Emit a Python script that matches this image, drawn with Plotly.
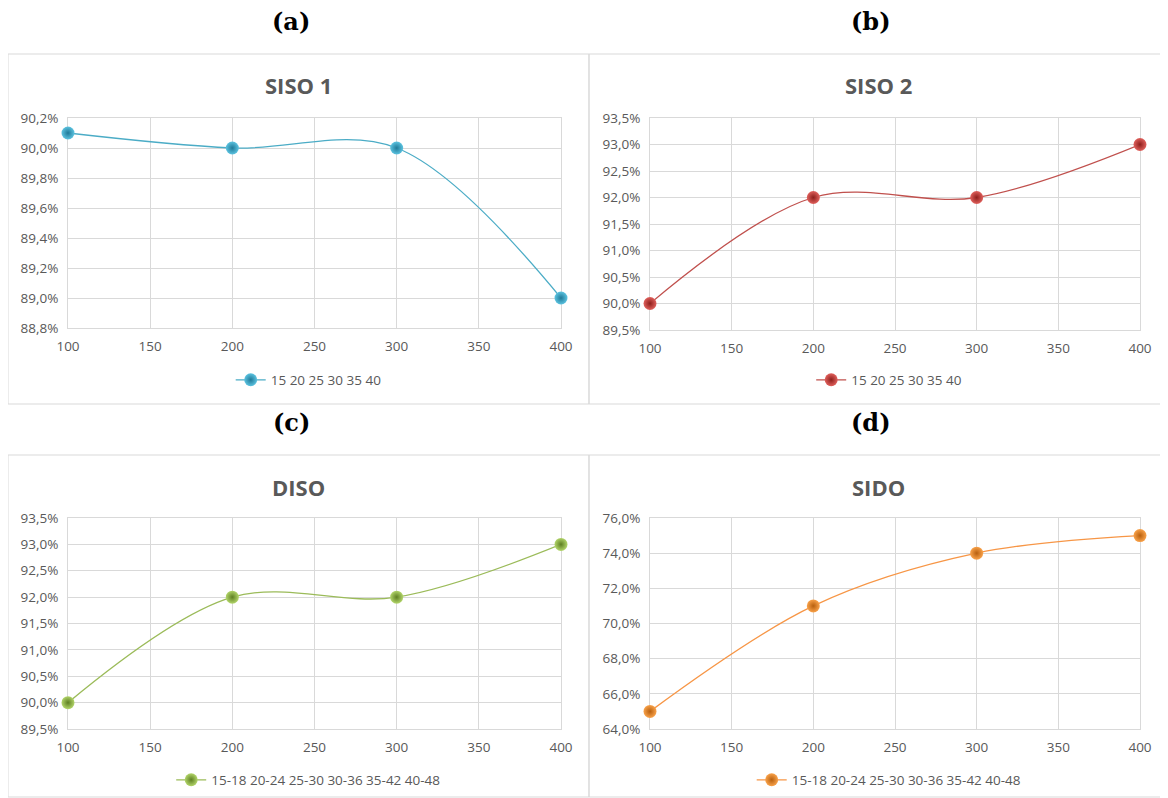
import plotly.graph_objects as go

x_vals = [100, 200, 300, 400]
siso1 = [90.1, 90.0, 90.0, 89.0]
siso2 = [90.0, 92.0, 92.0, 93.0]
diso = [90.0, 92.0, 92.0, 93.0]
sido = [65.0, 71.0, 74.0, 75.0]
titles = ["SISO 1", "SISO 2", "DISO", "SIDO"]
labels = ["(a)", "(b)", "(c)", "(d)"]
legend_names = ["15 20 25 30 35 40", "15 20 25 30 35 40",
                "15-18 20-24 25-30 30-36 35-42 40-48", "15-18 20-24 25-30 30-36 35-42 40-48"]
series = [siso1, siso2, diso, sido]
y_ranges = [(88.8, 90.2, 0.2), (89.5, 93.5, 0.5), (89.5, 93.5, 0.5), (64.0, 76.0, 2.0)]
line_colors = ["#4BACC6", "#C0504D", "#9BBB59", "#F79646"]
marker_colors = ["#5CC3E0", "#E0605C", "#B2D56A", "#F9A24A"]
edge_colors = ["#1F7A99", "#8E1F1C", "#5E7F22", "#B8600F"]

# the page body has an 8px margin: work in page pixels and shift by OFF
OFF = 8
W, H = 1168 - OFF, 798 - OFF
# plot area pixel boxes (page coords): (x0, x1, ytop, ybottom)
boxes = [(68, 561, 118, 328), (650, 1140, 118, 330), (68, 561, 518, 729), (650, 1140, 518, 729)]
panels = [(8, 589, 54, 404), (589, 1167, 54, 404), (8, 589, 455, 797), (589, 1167, 455, 797)]
label_pos = [(291, 22), (871, 22), (291, 422), (871, 422)]
title_y = [85, 85, 487, 487]
legend_y = [380, 380, 780, 780]


def fx(p):
    return (p - OFF) / W


def fy(p):
    return 1 - (p - OFF) / H


fig = go.Figure()
grid = "#D9D9D9"
txt = "#595959"
font_family = "Open Sans, Liberation Sans, sans-serif"

for i in range(4):
    xa = "x" if i == 0 else f"x{i+1}"
    ya = "y" if i == 0 else f"y{i+1}"
    lg = "legend" if i == 0 else f"legend{i+1}"
    fig.add_trace(go.Scatter(
        x=x_vals, y=series[i], mode="lines+markers", name=legend_names[i],
        line=dict(color=line_colors[i], width=1.3, shape="spline", smoothing=1.0),
        marker=dict(size=13, color=marker_colors[i],
                    gradient=dict(type="radial", color=edge_colors[i]),
                    line=dict(width=0)),
        cliponaxis=False,
        xaxis=xa, yaxis=ya, legend=lg, showlegend=True,
    ))
    x0, x1, yt, yb = boxes[i]
    lo, hi, dt = y_ranges[i]
    xkey = "xaxis" if i == 0 else f"xaxis{i+1}"
    ykey = "yaxis" if i == 0 else f"yaxis{i+1}"
    fig.update_layout(**{
        xkey: dict(domain=[fx(x0), fx(x1)], range=[100, 400], tick0=100, dtick=50,
                   showgrid=True, gridcolor=grid, gridwidth=1, zeroline=False,
                   showline=True, linecolor=grid, mirror=True, layer="below traces",
                   tickfont=dict(size=13.5, color=txt, family=font_family),
                   anchor=ya, ticks="", ticklabelstandoff=6),
        ykey: dict(domain=[fy(yb), fy(yt)], range=[lo, hi], tick0=lo, dtick=dt,
                   showgrid=True, gridcolor=grid, gridwidth=1, zeroline=False,
                   showline=True, linecolor=grid, mirror=True, layer="below traces",
                   tickformat=".1f", ticksuffix="%",
                   tickfont=dict(size=13.5, color=txt, family=font_family),
                   anchor=xa, ticks="", ticklabelstandoff=6),
        lg: dict(x=fx((x0 + x1) / 2) - 0.005, y=fy(legend_y[i]), xanchor="center", yanchor="middle",
                 orientation="h", bgcolor="rgba(0,0,0,0)",
                 font=dict(size=13.5, color=txt, family=font_family)),
    })
    # panel border
    px0, px1, py0, py1 = panels[i]
    fig.add_shape(type="rect", xref="paper", yref="paper",
                  x0=fx(px0), x1=fx(px1), y0=fy(py1), y1=fy(py0),
                  line=dict(color=grid, width=1), fillcolor="rgba(0,0,0,0)", layer="below")
    # chart title
    fig.add_annotation(text=f"<b>{titles[i]}</b>", xref="paper", yref="paper",
                       x=fx((px0 + px1) / 2), y=fy(title_y[i]), showarrow=False,
                       xanchor="center", yanchor="middle",
                       font=dict(size=22, color=txt, family=font_family))
    # subfigure label
    lx, ly = label_pos[i]
    fig.add_annotation(text=f"<b>{labels[i]}</b>", xref="paper", yref="paper",
                       x=fx(lx), y=fy(ly), showarrow=False,
                       xanchor="center", yanchor="middle",
                       font=dict(size=24, color="black", family="DejaVu Serif, Liberation Serif, serif"))

fig.update_layout(width=W, height=H, margin=dict(l=0, r=0, t=0, b=0, pad=0, autoexpand=False),
                  paper_bgcolor="white", plot_bgcolor="white", separators=",.",
                  font=dict(family=font_family, color=txt))

fig.write_html("out.html")
